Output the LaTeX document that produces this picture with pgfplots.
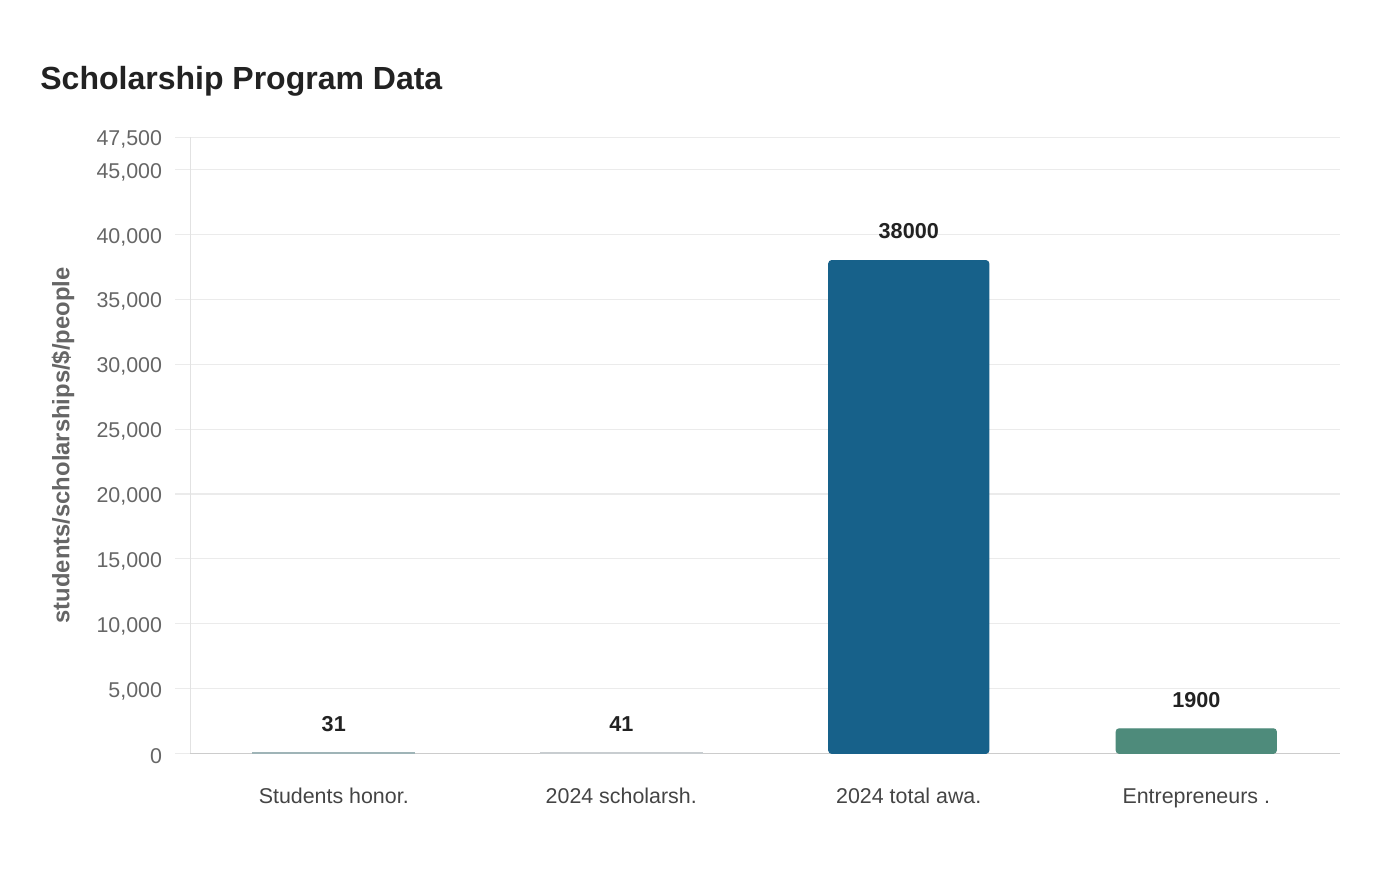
\documentclass[border=0pt]{standalone}
\usepackage{pgfplots}
\pgfplotsset{compat=1.18}
\usepackage{fontspec}
\setmainfont{Liberation Sans}

\definecolor{titlec}{HTML}{222222}
\definecolor{tickc}{HTML}{666666}
\definecolor{catc}{HTML}{444444}
\definecolor{gridc}{HTML}{EBEBEB}
\definecolor{axisc}{HTML}{CCCCCC}
\definecolor{barA}{HTML}{9FB4B7}
\definecolor{barB}{HTML}{C8CDD0}
\definecolor{barC}{HTML}{17618A}
\definecolor{barD}{HTML}{4E8B7B}

\begin{document}
\begin{tikzpicture}[x=1bp,y=1bp]
	\path[use as bounding box] (0,0) rectangle (700,440);
	\node[anchor=base west, inner sep=0pt, text=titlec,
		font=\fontsize{16bp}{19bp}\selectfont\bfseries] at (20,395) {Scholarship Program Data};
	\begin{axis}[
		at={(95bp,63.3bp)},
		anchor=south west,
		scale only axis,
		width=575bp,
		height=308bp,
		xmin=-0.5, xmax=3.5,
		ymin=0, ymax=47500,
		axis x line*=bottom,
		axis y line*=left,
		x axis line style={draw=axisc, line width=0.75bp, -},
		y axis line style={draw=gridc!80!black!20!gridc, line width=0.5bp, -},
		ymajorgrids,
		grid style={draw=gridc, line width=0.6bp},
		xtick={0,1,2,3},
		xticklabels={Students honor., 2024 scholarsh., 2024 total awa., Entrepreneurs .},
		ytick={0,5000,10000,15000,20000,25000,30000,35000,40000,45000,47500},
		scaled y ticks=false,
		xtick style={draw=none},
		ytick style={draw=gridc, line width=0.6bp},
		tick align=outside,
		major tick length=7.5bp,
		yticklabel style={font=\fontsize{10.7bp}{12bp}\selectfont, text=tickc,
			xshift=-3bp, yshift=-1.2bp,
			/pgf/number format/.cd, fixed, precision=0, 1000 sep={,}, assume math mode=true},
		xticklabel style={font=\fontsize{10.7bp}{12bp}\selectfont, text=catc,
			anchor=base, yshift=-17.75bp},
		ylabel={students/scholarships/\$/people},
		every axis y label/.style={at={(axis description cs:0,0.5)}, xshift=-63.5bp,
			rotate=90, anchor=center, font=\fontsize{11.9bp}{14bp}\selectfont\bfseries, text=tickc},
		ybar,
		bar shift=0pt,
		bar width=0.557,
		nodes near coords={\pgfmathprintnumber[fixed, precision=0, 1000 sep={}, assume math mode=true]{\pgfplotspointmeta}},
		every node near coord/.append style={anchor=center, yshift=14.5bp,
			font=\fontsize{10.8bp}{12bp}\selectfont\bfseries, text=titlec},
	]
		\addplot[fill=barA, draw=barA, line width=1.2bp] coordinates {(0,31)};
		\addplot[fill=barB, draw=barB, line width=1.2bp] coordinates {(1,41)};
		\addplot[fill=barC, draw=barC, line width=0.5bp, rounded corners=1.5bp] coordinates {(2,38000)};
		\addplot[fill=barD, draw=barD, line width=0.5bp, rounded corners=1.5bp] coordinates {(3,1900)};
	\end{axis}
\end{tikzpicture}
\end{document}
